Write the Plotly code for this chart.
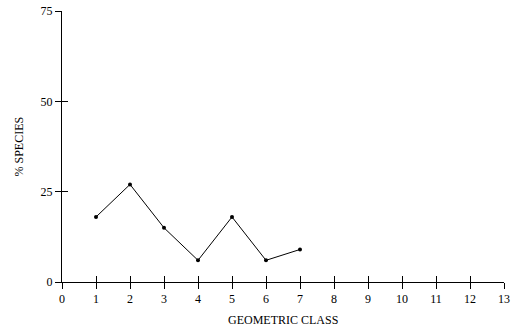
import plotly.graph_objects as go

classes = [1, 2, 3, 4, 5, 6, 7]
pct_species = [18, 27, 15, 6, 18, 6, 9]
x_ticks = list(range(0, 14))
y_ticks = [0, 25, 50, 75]

font = dict(family="Liberation Serif, Times New Roman, serif", size=12, color="black")

fig = go.Figure()
fig.add_trace(go.Scatter(
    x=classes, y=pct_species, mode="lines+markers",
    line=dict(color="black", width=1),
    marker=dict(color="black", size=4),
    showlegend=False,
))
fig.add_trace(go.Scatter(x=[0], y=[0], xaxis="x2", yaxis="y2", mode="markers",
                         marker=dict(opacity=0), showlegend=False, hoverinfo="skip"))

fig.update_layout(
    width=511, height=330,
    margin=dict(l=62, r=7, t=11, b=48),
    plot_bgcolor="white", paper_bgcolor="white",
    font=font,
    xaxis=dict(range=[0, 13], tickvals=x_ticks, ticks="outside", ticklen=6, tickwidth=1,
               tickcolor="black", showline=True, linecolor="black", linewidth=1,
               showgrid=False, zeroline=False, automargin=False),
    yaxis=dict(range=[0, 75], tickvals=y_ticks, ticks="outside", ticklen=6, tickwidth=1,
               tickcolor="black", showline=True, linecolor="black", linewidth=1,
               showgrid=False, zeroline=False, automargin=False),
    xaxis2=dict(range=[0, 13], tickvals=x_ticks[1:], ticks="inside", ticklen=6, tickwidth=1,
                tickcolor="black", showticklabels=False, overlaying="x", anchor="y2",
                showgrid=False, zeroline=False, showline=False, side="bottom", automargin=False),
    yaxis2=dict(range=[0, 75], tickvals=y_ticks[1:], ticks="inside", ticklen=6, tickwidth=1,
                tickcolor="black", showticklabels=False, overlaying="y", anchor="x2",
                showgrid=False, zeroline=False, showline=False, side="left", automargin=False),
    annotations=[
        dict(text="GEOMETRIC CLASS", xref="paper", yref="paper", x=0.5, y=0,
             xanchor="center", yanchor="middle", yshift=-38, showarrow=False,
             font=dict(size=12)),
        dict(text="% SPECIES", xref="paper", yref="paper", x=0, y=0.5,
             xanchor="center", yanchor="middle", xshift=-44, showarrow=False,
             textangle=-90, font=dict(size=12)),
    ],
)

fig.write_html("out.html", config={"displayModeBar": False},
               post_script="document.body.style.margin='0';")
